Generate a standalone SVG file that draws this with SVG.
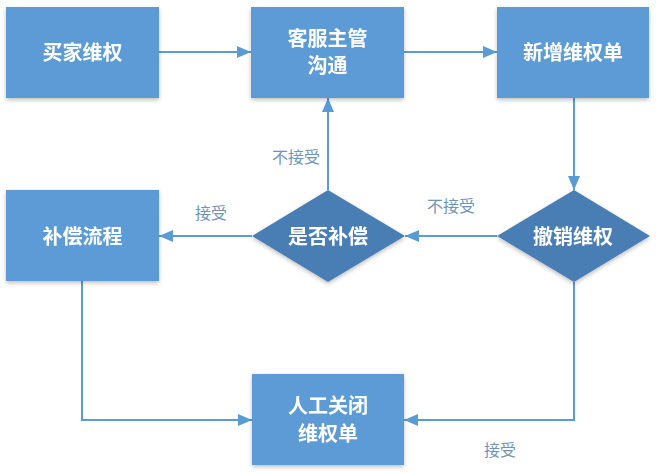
<svg xmlns="http://www.w3.org/2000/svg" width="659" height="472" viewBox="0 0 659 472">
<style>
.box{fill:#5b9bd5}
.dia{fill:#4a7eb4}
.t{font-family:"Liberation Sans","Noto Sans CJK SC",sans-serif;font-size:20px;font-weight:bold;fill:#fff;text-anchor:middle}
.lbl{font-family:"Liberation Sans","Noto Sans CJK SC",sans-serif;font-size:16px;fill:#6f93bb;text-anchor:middle}
.c{fill:none;stroke:#5b9bd5;stroke-width:2;marker-end:url(#ah2)}
</style>
<defs>
<marker id="ah2" viewBox="0 0 14 12" refX="14" refY="6" markerWidth="14" markerHeight="12" markerUnits="userSpaceOnUse" orient="auto">
<path d="M0,0 L14,6 L0,12 z" fill="#5b9bd5"/>
</marker>
<filter id="sh" x="-10%" y="-10%" width="120%" height="125%">
<feGaussianBlur in="SourceAlpha" stdDeviation="2"/>
<feOffset dx="0" dy="2" result="b"/>
<feComponentTransfer><feFuncA type="linear" slope="0.25"/></feComponentTransfer>
<feMerge><feMergeNode/><feMergeNode in="SourceGraphic"/></feMerge>
</filter>
</defs>
<rect width="659" height="472" fill="#fff"/>
<g id="connectors">
<path class="c" d="M159,52 H251"/>
<path class="c" d="M404,52 H497"/>
<path class="c" d="M574,98 V190"/>
<path class="c" d="M497,236 H405"/>
<path class="c" d="M328,190 V98"/>
<path class="c" d="M252,236 H159"/>
<path class="c" d="M82,281 V420 H252"/>
<path class="c" d="M574,282 V420 H404"/>
<text class="lbl" x="296" y="163">不接受</text>
<text class="lbl" x="451" y="212">不接受</text>
<text class="lbl" x="211" y="219">接受</text>
<text class="lbl" x="500" y="456">接受</text>
</g>
<g id="n1" filter="url(#sh)"><rect class="box" x="6" y="7" width="153" height="91"/><text class="t" x="82.5" y="60">买家维权</text></g>
<g id="n2" filter="url(#sh)"><rect class="box" x="251" y="7" width="153" height="91"/><text class="t" x="327.5" y="46">客服主管</text><text class="t" x="327.5" y="73">沟通</text></g>
<g id="n3" filter="url(#sh)"><rect class="box" x="497" y="7" width="152" height="91"/><text class="t" x="573" y="60">新增维权单</text></g>
<g id="n4" filter="url(#sh)"><polygon class="dia" points="574,190 650,236 574,282 497,236"/><text class="t" x="573" y="244">撤销维权</text></g>
<g id="n5" filter="url(#sh)"><polygon class="dia" points="328,190 405,236 328,282 252,236"/><text class="t" x="328" y="244">是否补偿</text></g>
<g id="n6" filter="url(#sh)"><rect class="box" x="6" y="190" width="153" height="91"/><text class="t" x="82.5" y="244">补偿流程</text></g>
<g id="n7" filter="url(#sh)"><rect class="box" x="252" y="374" width="152" height="91"/><text class="t" x="328" y="413">人工关闭</text><text class="t" x="328" y="441">维权单</text></g>
</svg>
